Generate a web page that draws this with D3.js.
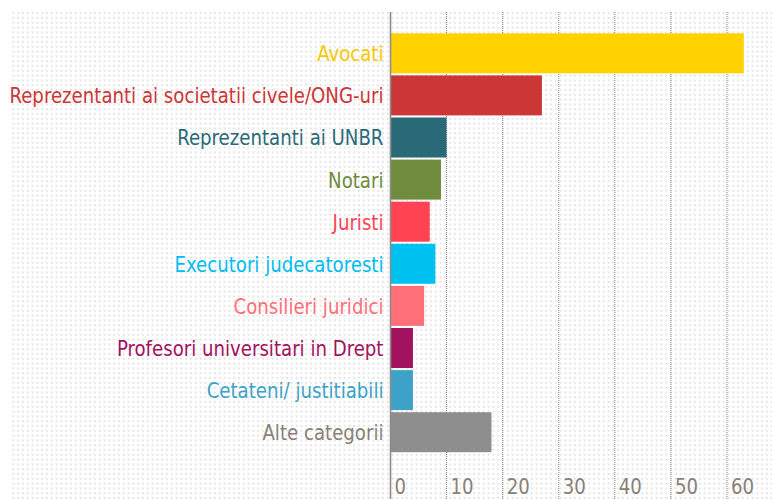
<!DOCTYPE html>
<html>
<head>
<meta charset="utf-8">
<script src="https://cdn.jsdelivr.net/npm/d3@7/dist/d3.min.js"></script>
<style>
  html, body { margin: 0; padding: 0; background: #fff; }
  svg { display: block; }
  text { font-family: "DejaVu Sans Condensed", "Liberation Sans Narrow", "Roboto", sans-serif; }
</style>
</head>
<body>
<svg id="chart" width="772" height="499"></svg>
<script>
// Respondent categories, top to bottom
const categories = [
  "Avocati",
  "Reprezentanti ai societatii civele/ONG-uri",
  "Reprezentanti ai UNBR",
  "Notari",
  "Juristi",
  "Executori judecatoresti",
  "Consilieri juridici",
  "Profesori universitari in Drept",
  "Cetateni/ justitiabili",
  "Alte categorii"
];
// Number of respondents per category
const values = [63, 27, 10, 9, 7, 8, 6, 4, 4, 18];
// Bar / label colour per category
const colors = [
  "#ffd200", "#cc3636", "#2a6a78", "#6f8b3c", "#ff4352",
  "#00c2f0", "#ff6f7a", "#a3125f", "#3ea2c8", "#8e8e8e"
];
const labelColors = [
  "#f7c900", "#cc3636", "#2a6a78", "#6f8b3c", "#ff4352",
  "#00bdf0", "#ff6f7a", "#a3125f", "#3ea2c8", "#8a7f78"
];
// Axis tick values
const ticks = [0, 10, 20, 30, 40, 50, 60];

const W = 772, H = 499;
const FS = 21;
const svg = d3.select("#chart");

// dotted background
const defs = svg.append("defs");
const pat = defs.append("pattern")
  .attr("id", "dots")
  .attr("patternUnits", "userSpaceOnUse")
  .attr("x", 12.5).attr("y", 12.3)
  .attr("width", 4.8).attr("height", 4.8);
pat.append("rect").attr("width", 1.6).attr("height", 1.6).attr("fill", "#d9d9d9");
svg.append("rect")
  .attr("x", 12).attr("y", 12).attr("width", W - 12).attr("height", H - 12)
  .attr("fill", "url(#dots)");

const x = d3.scaleLinear().domain([0, 65]).range([390.5, 755]);
const y = d3.scaleBand().domain(categories).range([33.3, 452.2])
  .paddingInner(0.05).paddingOuter(0);

// dotted vertical gridlines
svg.append("g").selectAll("line")
  .data(ticks.filter(t => t > 0))
  .join("line")
  .attr("x1", d => x(d)).attr("x2", d => x(d))
  .attr("y1", 12).attr("y2", H)
  .attr("stroke", "#8a8a8a")
  .attr("stroke-width", 1.1)
  .attr("stroke-dasharray", "1,1");

// bars
svg.append("g").selectAll("rect")
  .data(categories)
  .join("rect")
  .attr("x", x(0))
  .attr("y", d => y(d))
  .attr("width", (d, i) => x(values[i]) - x(0))
  .attr("height", y.bandwidth())
  .attr("fill", (d, i) => colors[i]);

// baseline axis
svg.append("line")
  .attr("x1", x(0)).attr("x2", x(0))
  .attr("y1", 12).attr("y2", H)
  .attr("stroke", "#8c8c8c").attr("stroke-width", 1.6);

// category labels
const labels = svg.append("g").selectAll("text")
  .data(categories)
  .join("text")
  .attr("x", x(0) - 7)
  .attr("y", d => y(d) + y.bandwidth() / 2 + 8)
  .attr("text-anchor", "end")
  .attr("fill", (d, i) => labelColors[i])
  .attr("font-size", FS)
  .text(d => d);

// condense the lettering so the widest label fits the left margin
let widest = 0;
labels.each(function () { widest = Math.max(widest, this.getComputedTextLength()); });
const squeeze = 374 / widest;
labels.each(function () {
  d3.select(this)
    .attr("textLength", this.getComputedTextLength() * squeeze)
    .attr("lengthAdjust", "spacingAndGlyphs");
});

// tick labels along the bottom
const tickText = svg.append("g").selectAll("text")
  .data(ticks)
  .join("text")
  .attr("x", d => x(d) + 4)
  .attr("y", 494)
  .attr("fill", "#8a7f78")
  .attr("font-size", FS)
  .text(d => d);
tickText.each(function () {
  d3.select(this)
    .attr("textLength", this.getComputedTextLength() * squeeze)
    .attr("lengthAdjust", "spacingAndGlyphs");
});
</script>
</body>
</html>
